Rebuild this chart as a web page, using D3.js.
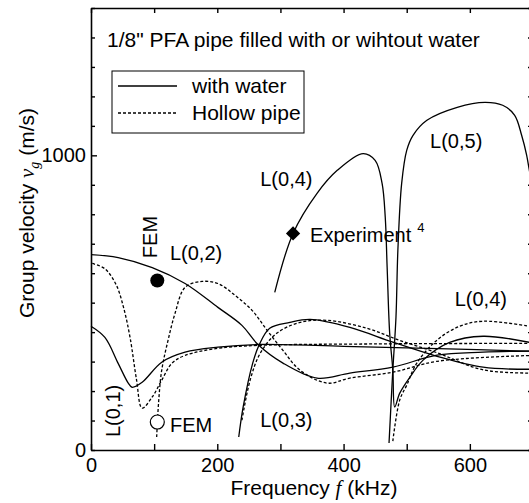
<!DOCTYPE html>
<html>
<head>
<meta charset="utf-8">
<script src="https://cdn.jsdelivr.net/npm/d3@7"></script>
<style>
  body { margin: 0; background: #fff; }
  text { font-family: "Liberation Sans", Arial, sans-serif; fill: #000; }
</style>
</head>
<body>
<svg id="chart" width="529" height="503"></svg>
<script>
// axis ticks
const freqTicks = d3.range(0, 701, 100);
const freqLabels = [0, 200, 400, 600];
const velTicks = d3.range(0, 1501, 100);
const velLabels = [0, 1000];

// pipe filled with water (solid) : [frequency kHz, group velocity m/s]
const waterL01 = [[0,420],[22,382],[43,294],[59,227],[65,213],[81,230],[112,298],[149,332],[201,349],[264,358],[400,352],[550,344],[700,335]];
const waterL02 = [[0,663],[43,653],[97,619],[149,565],[201,484],[239,423],[264,359],[304,295],[358,244],[410,261],[478,281],[548,322],[621,332],[700,336]];
const waterL03 = [[234,44],[241,146],[256,294],[266,355],[283,413],[315,433],[347,443],[410,416],[478,366],[548,318],[621,281],[700,274]];
const waterL04 = [[291,535],[320,735],[358,871],[390,949],[431,1006],[450,983],[461,905],[466,790],[469,620],[473,397],[478,271],[481,146],[489,193],[505,247],[526,305],[568,365],[621,386],[700,363]];
const waterL05 = [[472,24],[478,271],[483,451],[486,678],[492,905],[500,1017],[510,1068],[532,1119],[580,1163],[624,1180],[652,1170],[671,1136],[682,1068],[690,1000],[697,915]];

// hollow pipe (dashed)
const hollowL01 = [[2,633],[22,615],[40,560],[52,480],[62,380],[72,240],[81,142],[97,180],[112,237],[128,294],[149,321],[201,345],[264,355],[450,360],[700,362]];
const hollowL02 = [[104,44],[107,160],[112,271],[122,372],[133,463],[149,552],[176,572],[201,565],[228,525],[255,474],[279,406],[304,338],[331,271],[374,227],[410,244],[478,264],[548,301],[700,321]];
const hollowL03 = [[239,101],[252,237],[268,328],[294,396],[331,433],[374,440],[437,413],[489,372],[548,330],[621,272],[700,261]];
const hollowL04 = [[478,30],[489,170],[500,220],[516,295],[548,373],[584,420],[621,437],[700,418]];

// markers
const femFilled = [105, 575];
const femOpen = [105, 95];
const experiment = [320, 735];

const svg = d3.select("#chart");
const x = d3.scaleLinear().domain([0, 700]).range([91, 533]);
const y = d3.scaleLinear().domain([0, 1500]).range([450, 8]);

// axes (ticks inside the frame)
const axes = svg.append("g").attr("stroke-width", 1.4);
axes.append("g")
  .attr("transform", "translate(0,450)")
  .call(d3.axisBottom(x).tickValues(freqTicks).tickSizeInner(-6).tickSizeOuter(0).tickPadding(8)
    .tickFormat(d => freqLabels.includes(d) ? d : ""));
axes.append("g")
  .attr("transform", "translate(0,8)")
  .call(d3.axisTop(x).tickValues(freqTicks).tickSizeInner(-5).tickSizeOuter(0).tickFormat(""));
axes.append("g")
  .attr("transform", "translate(91,0)")
  .call(d3.axisLeft(y).tickValues(velTicks).tickSizeOuter(0).tickPadding(5)
    .tickSizeInner(-4)
    .tickFormat(d => velLabels.includes(d) ? d : ""));
axes.append("g")
  .attr("transform", "translate(533,0)")
  .call(d3.axisRight(y).tickValues(velTicks).tickSizeInner(-5).tickSizeOuter(0).tickFormat(""));
axes.selectAll(".tick text").attr("font-size", 20).attr("font-family", "Liberation Sans, Arial, sans-serif");
axes.selectAll(".domain").attr("stroke-width", 1.6);
// longer ticks at labelled values on the left
axes.selectAll(".tick line").filter(d => velLabels.includes(d) && d !== 0).attr("x2", 6);

// curves
const line = d3.line()
  .x(d => x(d[0]))
  .y(d => y(d[1]))
  .curve(d3.curveCatmullRom.alpha(0.5));

const curves = svg.append("g").attr("fill", "none").attr("stroke", "#000").attr("stroke-width", 1.3);
[hollowL01, hollowL02, hollowL03, hollowL04].forEach(c => {
  curves.append("path").attr("d", line(c)).attr("stroke-dasharray", "3,2");
});
[waterL01, waterL02, waterL03, waterL04, waterL05].forEach(c => {
  curves.append("path").attr("d", line(c));
});

// markers
svg.append("circle").attr("cx", x(femFilled[0])).attr("cy", y(femFilled[1])).attr("r", 7).attr("fill", "#000");
svg.append("circle").attr("cx", x(femOpen[0])).attr("cy", y(femOpen[1])).attr("r", 7)
  .attr("fill", "#fff").attr("stroke", "#000").attr("stroke-width", 1.2);
svg.append("path")
  .attr("d", d3.symbol(d3.symbolDiamond2, 130)())
  .attr("transform", `translate(${x(experiment[0])},${y(experiment[1])})`)
  .attr("fill", "#000");

// annotations
const fs = 20;
function label(f, v, txt, rot) {
  const t = svg.append("text").attr("font-size", fs).text(txt);
  if (rot) t.attr("transform", `translate(${x(f)},${y(v)}) rotate(-90)`);
  else t.attr("x", x(f)).attr("y", y(v));
  return t;
}
label(125, 644, "L(0,2)");
label(105, 651, "FEM", true);
label(268, 895, "L(0,4)");
label(537, 1024, "L(0,5)");
label(576, 488, "L(0,4)");
label(268, 78, "L(0,3)");
label(46, 44, "L(0,1)", true);
label(125, 61, "FEM");
const exp = label(347, 705, "Experiment");
exp.append("tspan").attr("font-size", 13).attr("dx", 6).attr("dy", -10).text("4");

// title
svg.append("text").attr("x", 107).attr("y", 47).attr("font-size", 21)
  .text("1/8\" PFA pipe filled with or wihtout water");

// legend
const lg = svg.append("g");
lg.append("rect").attr("x", 112).attr("y", 71).attr("width", 192).attr("height", 62)
  .attr("fill", "#fff").attr("stroke", "#000").attr("stroke-width", 1);
lg.append("line").attr("x1", 118).attr("x2", 177).attr("y1", 86).attr("y2", 86)
  .attr("stroke", "#000").attr("stroke-width", 1.3);
lg.append("line").attr("x1", 118).attr("x2", 177).attr("y1", 113).attr("y2", 113)
  .attr("stroke", "#000").attr("stroke-width", 1.3).attr("stroke-dasharray", "3,2");
lg.append("text").attr("x", 192).attr("y", 93).attr("font-size", 21).text("with water");
lg.append("text").attr("x", 192).attr("y", 120).attr("font-size", 21).text("Hollow pipe");

// axis titles
const xt = svg.append("text").attr("x", 314).attr("y", 495).attr("font-size", 21).attr("text-anchor", "middle");
xt.append("tspan").text("Frequency ");
xt.append("tspan").attr("font-family", "Liberation Serif, serif").attr("font-style", "italic").text("f");
xt.append("tspan").text(" (kHz)");

const yt = svg.append("text").attr("transform", "translate(34,213) rotate(-90)")
  .attr("font-size", 21).attr("text-anchor", "middle");
yt.append("tspan").text("Group velocity ");
yt.append("tspan").attr("font-family", "Liberation Serif, serif").attr("font-style", "italic").text("v");
yt.append("tspan").attr("font-family", "Liberation Serif, serif").attr("font-style", "italic")
  .attr("font-size", 14).attr("dy", 5).text("g");
yt.append("tspan").attr("dy", -5).text(" (m/s)");
</script>
</body>
</html>
